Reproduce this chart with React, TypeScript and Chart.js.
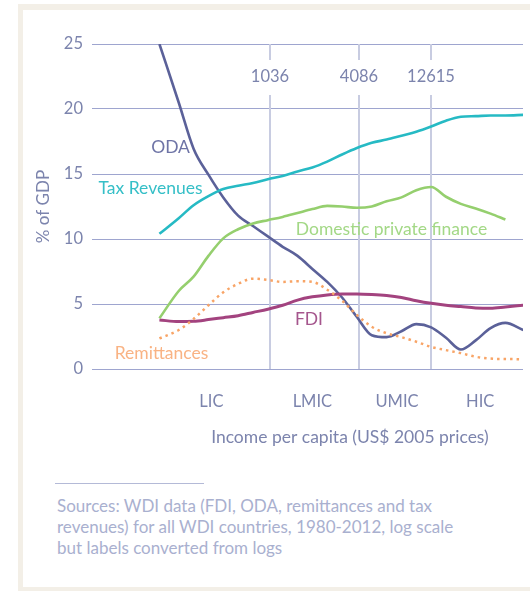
import React, { useEffect, useRef } from "react";
import { Chart, registerables } from "chart.js";

Chart.register(...registerables);

// x: log10 of income per capita (US$ 2005 prices)
const logIncome = [2.27, 2.4, 2.5, 2.6, 2.7, 2.8, 2.9, 3.0, 3.1, 3.2, 3.3, 3.4, 3.5, 3.6, 3.7, 3.8, 3.9, 4.0, 4.1, 4.2, 4.3, 4.4, 4.5, 4.6, 4.72];

const oda = [25.0, 20.5, 16.95, 14.95, 13.2, 11.8, 11.0, 10.2, 9.4, 8.7, 7.7, 6.7, 5.5, 4.0, 2.6, 2.45, 2.9, 3.45, 3.2, 2.4, 1.5, 2.2, 3.15, 3.55, 3.0];
const taxRevenues = [10.4, 11.6, 12.6, 13.3, 13.85, 14.1, 14.3, 14.6, 14.85, 15.2, 15.5, 15.95, 16.5, 17.0, 17.4, 17.65, 17.95, 18.25, 18.65, 19.1, 19.4, 19.45, 19.5, 19.5, 19.55];
const domesticPrivate = [3.9, 6.0, 7.1, 8.7, 10.05, 10.75, 11.2, 11.45, 11.7, 12.0, 12.3, 12.55, 12.5, 12.4, 12.5, 12.9, 13.2, 13.75, 14.0, 13.25, 12.7, 12.35, 11.95, 11.5, null];
const fdi = [3.77, 3.65, 3.67, 3.8, 3.95, 4.1, 4.35, 4.6, 4.9, 5.3, 5.55, 5.7, 5.77, 5.77, 5.73, 5.65, 5.5, 5.25, 5.05, 4.9, 4.8, 4.7, 4.67, 4.77, 4.9];
const remittances = [2.35, 3.0, 3.85, 4.9, 5.9, 6.55, 6.95, 6.85, 6.7, 6.75, 6.7, 6.1, 5.25, 4.15, 3.25, 2.75, 2.45, 2.1, 1.7, 1.45, 1.22, 0.94, 0.8, 0.77, 0.75];

const yTicks = [0, 5, 10, 15, 20, 25];
const thresholds = [1036, 4086, 12615];
const incomeGroups = ["LIC", "LMIC", "UMIC", "HIC"];
const incomeGroupPos = [2.62, 3.3, 3.87, 4.43];

const seriesNames = ["ODA", "Tax Revenues", "Domestic private finance", "FDI", "Remittances"];
// label anchors in data units [logIncome, % of GDP]
const labelAnchors = [
  [2.345, 17.05],
  [2.21, 13.9],
  [3.833, 10.73],
  [3.277, 3.85],
  [2.284, 1.2],
];

const FONT = "Lato, 'Open Sans', sans-serif";
const TICK = "#7c84ad";
const lineColors = ["#5b6199", "#26bac4", "#95cf6e", "#a3437f", "#f8a466"];
const labelColors = ["#6e74a6", "#35bfc7", "#a3d886", "#a5568d", "#f9b384"];

const toPoints = (vals: (number | null)[]) =>
  logIncome.map((x, i) => ({ x, y: vals[i] }));

export default function App() {
  const ref = useRef<HTMLCanvasElement | null>(null);

  useEffect(() => {
    const canvas = ref.current;
    if (!canvas) return;

    const overlay = {
      id: "overlay",
      beforeDatasetsDraw(chart: any) {
        const { ctx, chartArea, scales } = chart;
        const x = scales.x;
        ctx.save();
        ctx.strokeStyle = "#c8cce1";
        ctx.lineWidth = 2;
        ctx.font = `16.5px ${FONT}`;
        ctx.fillStyle = TICK;
        ctx.textAlign = "center";
        ctx.textBaseline = "middle";
        thresholds.forEach((t) => {
          const px = Math.round(x.getPixelForValue(Math.log10(t)));
          ctx.beginPath();
          ctx.moveTo(px, chartArea.top);
          ctx.lineTo(px, chartArea.top + 16);
          ctx.moveTo(px, chartArea.top + 51);
          ctx.lineTo(px, chartArea.bottom);
          ctx.stroke();
          ctx.fillText(String(t), px, chartArea.top + 33);
        });
        ctx.restore();
      },
      afterDatasetsDraw(chart: any) {
        const { ctx, scales } = chart;
        const x = scales.x;
        const y = scales.y;
        ctx.save();
        ctx.font = `17.5px ${FONT}`;
        ctx.textAlign = "center";
        ctx.textBaseline = "middle";
        seriesNames.forEach((name, i) => {
          ctx.fillStyle = labelColors[i];
          ctx.fillText(name, x.getPixelForValue(labelAnchors[i][0]), y.getPixelForValue(labelAnchors[i][1]));
        });
        ctx.fillStyle = TICK;
        ctx.fillText("Income per capita (US$ 2005 prices)", x.getPixelForValue(3.553), 437);
        ctx.restore();
      },
    };

    const mk = (i: number, data: (number | null)[], extra: any = {}) => ({
      label: seriesNames[i],
      data: toPoints(data),
      borderColor: lineColors[i],
      borderWidth: 2.6,
      pointRadius: 0,
      fill: false,
      cubicInterpolationMode: "monotone",
      spanGaps: false,
      ...extra,
    });

    const chart = new Chart(canvas, {
      type: "line",
      data: {
        datasets: [
          mk(2, domesticPrivate),
          mk(1, taxRevenues),
          mk(4, remittances, { borderDash: [2.5, 4], borderWidth: 2.5 }),
          mk(3, fdi, { borderWidth: 3 }),
          mk(0, oda),
        ] as any,
      },
      options: {
        responsive: false,
        animation: false,
        events: [],
        layout: { padding: { top: 44, right: 7, left: 0, bottom: 0 } },
        plugins: { legend: { display: false }, tooltip: { enabled: false } },
        scales: {
          x: {
            type: "linear",
            min: 1.816,
            max: 4.7185,
            afterFit: (s: any) => {
              s.height = 101;
            },
            afterBuildTicks: (s: any) => {
              s.ticks = incomeGroupPos.map((v) => ({ value: v }));
            },
            ticks: {
              autoSkip: false,
              maxRotation: 0,
              padding: 23,
              color: TICK,
              font: { family: FONT, size: 16.5 },
              callback: (_v: any, i: number) => incomeGroups[i],
            },
            grid: { display: false, drawTicks: false },
            border: { display: false },
          },
          y: {
            type: "linear",
            min: 0,
            max: 25,
            afterFit: (s: any) => {
              s.width = 92;
            },
            afterBuildTicks: (s: any) => {
              s.ticks = yTicks.map((v) => ({ value: v }));
            },
            ticks: {
              padding: 9,
              color: TICK,
              font: { family: FONT, size: 16.5 },
            },
            grid: { color: "#9ea5cf", lineWidth: 1, drawTicks: false },
            border: { display: false },
            title: {
              display: true,
              text: "% of GDP",
              color: TICK,
              font: { family: FONT, size: 17 },
              padding: { top: 33, bottom: 0 },
            },
          },
        },
      } as any,
      plugins: [overlay],
    });

    return () => chart.destroy();
  }, []);

  return (
    <div style={{ position: "absolute", left: 0, top: 0, width: 530, height: 591, background: "#ffffff", overflow: "hidden" }}>
      <div style={{ position: "absolute", left: 18, top: 4, width: 512, height: 587, background: "#f3efe7" }} />
      <div style={{ position: "absolute", left: 23, top: 10, width: 507, height: 577, background: "#ffffff" }} />
      <canvas ref={ref} width={530} height={470} style={{ position: "absolute", left: 0, top: 0, width: 530, height: 470 }} />
      <div style={{ position: "absolute", left: 55, top: 483, width: 149, height: 1, background: "#b4bad7" }} />
      <div
        style={{
          position: "absolute",
          left: 57,
          top: 495,
          fontFamily: FONT,
          fontSize: 17,
          lineHeight: "21px",
          color: "#a9b0cf",
          whiteSpace: "nowrap",
        }}
      >
        <div>Sources: WDI data (FDI, ODA, remittances and tax</div>
        <div>revenues) for all WDI countries, 1980-2012, log scale</div>
        <div>but labels converted from logs</div>
      </div>
    </div>
  );
}
